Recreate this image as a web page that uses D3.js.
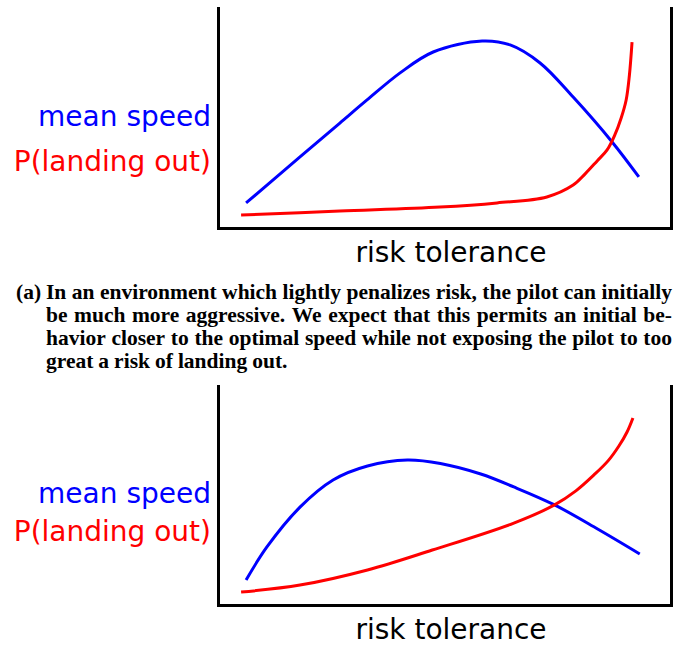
<!DOCTYPE html>
<html>
<head>
<meta charset="utf-8">
<script src="https://cdn.jsdelivr.net/npm/d3@7"></script>
<style>
  body { margin: 0; background: #fff; }
  svg { display: block; }
</style>
</head>
<body>
<svg id="chart" width="675" height="645"></svg>
<script>
// risk tolerance (0-100) vs relative value (0-100)
var topSpeedX = [6.2, 18.1, 26.9, 32.9, 40.2, 47.5, 58.3, 64.5, 71.1, 78.4, 87.0, 92.9];
var topSpeedY = [11.4, 32.3, 47.7, 58.2, 70.5, 80.0, 85.0, 83.2, 75.0, 59.5, 39.1, 23.2];
var topLandX = [5.1, 26.9, 49.0, 61.6, 72.6, 78.4, 81.0, 83.7, 85.9, 87.6, 89.0, 90.1, 90.8, 91.4];
var topLandY = [5.9, 7.7, 9.5, 11.4, 14.1, 19.5, 24.5, 30.5, 35.5, 42.3, 50.0, 58.2, 69.1, 84.5];

var botSpeedX = [6.2, 10.8, 18.1, 25.4, 33.0, 41.8, 49.1, 58.0, 65.3, 74.3, 83.8, 93.1];
var botSpeedY = [11.4, 26.5, 44.7, 57.1, 63.5, 66.2, 64.6, 59.8, 53.9, 45.7, 34.7, 23.3];
var botLandX = [5.1, 18.1, 33.0, 47.3, 65.3, 74.3, 79.0, 83.0, 86.1, 88.5, 90.3, 91.6];
var botLandY = [5.9, 9.1, 16.0, 25.1, 37.4, 45.7, 52.1, 59.4, 65.8, 72.6, 79.0, 85.4];

var seriesLabels = ["mean speed", "P(landing out)"];
var xLabel = "risk tolerance";
var captionTag = "(a)";
var captionLines = [
  "In an environment which lightly penalizes risk, the pilot can initially",
  "be much more aggressive.  We expect that this permits an initial be-",
  "havior closer to the optimal speed while not exposing the pilot to too",
  "great a risk of landing out."
];

var svg = d3.select("#chart");
var BLUE = "#0000ff", RED = "#ff0000";

function zip(xs, ys) { return xs.map(function(x, i) { return [x, ys[i]]; }); }

function panel(top, bottom, speed, land, labelY1, labelY2) {
  var x = d3.scaleLinear().domain([0, 100]).range([218, 671]);
  var y = d3.scaleLinear().domain([0, 100]).range([bottom, top]);
  var g = svg.append("g");

  var axes = [
    g.append("g").attr("transform", "translate(218,0)").call(d3.axisLeft(y).ticks(0).tickSizeOuter(0)),
    g.append("g").attr("transform", "translate(671,0)").call(d3.axisRight(y).ticks(0).tickSizeOuter(0)),
    g.append("g").attr("transform", "translate(0," + bottom + ")").call(d3.axisBottom(x).ticks(0).tickSizeOuter(0))
  ];
  axes.forEach(function(a) {
    a.select(".domain").attr("stroke", "#000").attr("stroke-width", 3).attr("stroke-linecap", "square");
  });

  var line = d3.line()
    .x(function(d) { return x(d[0]); })
    .y(function(d) { return y(d[1]); })
    .curve(d3.curveCatmullRom.alpha(0.5));

  g.append("path").datum(speed).attr("d", line)
    .attr("fill", "none").attr("stroke", BLUE).attr("stroke-width", 3);
  g.append("path").datum(land).attr("d", line)
    .attr("fill", "none").attr("stroke", RED).attr("stroke-width", 3);

  g.append("text").attr("x", 211).attr("y", labelY1).attr("text-anchor", "end")
    .attr("font-family", "DejaVu Sans").attr("font-size", 28).attr("fill", BLUE).text(seriesLabels[0]);
  g.append("text").attr("x", 211).attr("y", labelY2).attr("text-anchor", "end")
    .attr("font-family", "DejaVu Sans").attr("font-size", 28).attr("fill", RED).text(seriesLabels[1]);
  g.append("text").attr("x", 451).attr("y", bottom + 34).attr("text-anchor", "middle")
    .attr("font-family", "DejaVu Sans").attr("font-size", 28).attr("fill", "#000").text(xLabel);
}

panel(8, 228, zip(topSpeedX, topSpeedY), zip(topLandX, topLandY), 126, 171);
panel(386, 605, zip(botSpeedX, botSpeedY), zip(botLandX, botLandY), 503, 541);

// caption, justified word by word
var cap = svg.append("g")
  .attr("font-family", "Liberation Serif").attr("font-weight", "bold").attr("font-size", 21.5).attr("fill", "#000");
cap.append("text").attr("x", 16).attr("y", 299).text(captionTag);

var left = 46, right = 672;
captionLines.forEach(function(str, li) {
  var yy = 299 + li * 23;
  var words = str.split(/ +/);
  var nodes = words.map(function(w) {
    return cap.append("text").attr("y", yy).text(w);
  });
  var widths = nodes.map(function(n) { return n.node().getComputedTextLength(); });
  var total = d3.sum(widths);
  var last = li === captionLines.length - 1;
  var gap = last ? 5 : (right - left - total) / (words.length - 1);
  var cx = left;
  nodes.forEach(function(n, i) {
    n.attr("x", cx);
    cx += widths[i] + gap;
  });
});
</script>
</body>
</html>
